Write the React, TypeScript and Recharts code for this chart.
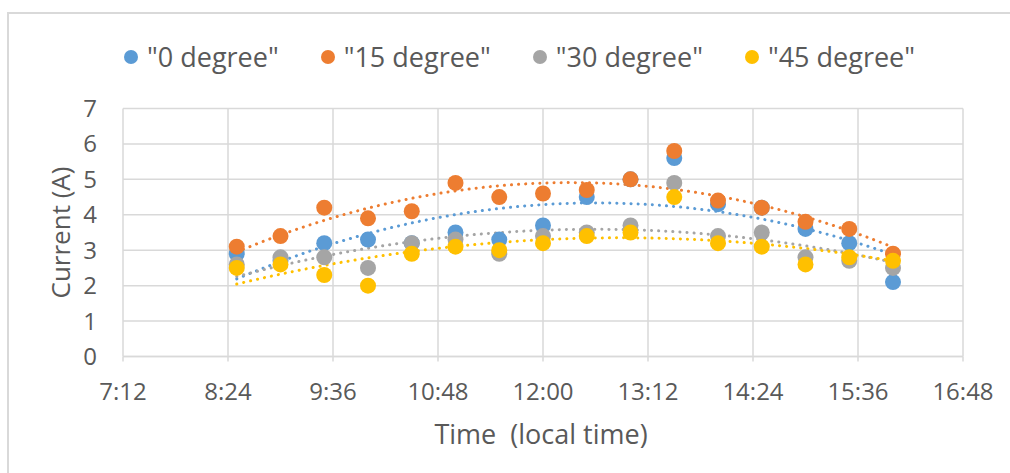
import React from 'react';
import { ComposedChart, Scatter, Line, XAxis, YAxis, CartesianGrid, Legend } from 'recharts';

const times = ['8:30', '9:00', '9:30', '10:00', '10:30', '11:00', '11:30', '12:00', '12:30', '13:00', '13:30', '14:00', '14:30', '15:00', '15:30', '16:00'];
const deg0 = [2.9, 2.7, 3.2, 3.3, 3.2, 3.5, 3.3, 3.7, 4.5, 5.0, 5.6, 4.3, 4.2, 3.6, 3.2, 2.1];
const deg15 = [3.1, 3.4, 4.2, 3.9, 4.1, 4.9, 4.5, 4.6, 4.7, 5.0, 5.8, 4.4, 4.2, 3.8, 3.6, 2.9];
const deg30 = [2.6, 2.8, 2.8, 2.5, 3.2, 3.3, 2.9, 3.4, 3.5, 3.7, 4.9, 3.4, 3.5, 2.8, 2.7, 2.5];
const deg45 = [2.5, 2.6, 2.3, 2.0, 2.9, 3.1, 3.0, 3.2, 3.4, 3.5, 4.5, 3.2, 3.1, 2.6, 2.8, 2.7];
const seriesNames = ['"0 degree"', '"15 degree"', '"30 degree"', '"45 degree"'];
const seriesColors = ['#5B9BD5', '#ED7D31', '#A5A5A5', '#FFC000'];
const xTickLabels = ['7:12', '8:24', '9:36', '10:48', '12:00', '13:12', '14:24', '15:36', '16:48'];
const yTicks = [0, 1, 2, 3, 4, 5, 6, 7];
const xTitle = 'Time  (local time)';
const yTitle = 'Current (A)';

const FONT = '"Open Sans", "Noto Sans", sans-serif';
const TEXT = '#595959';
const GRID = '#d9d9d9';

const toMin = (s: string) => {
  const [h, m] = s.split(':').map(Number);
  return h * 60 + m;
};
const fmt = (v: number) => {
  const h = Math.floor(v / 60);
  const m = Math.round(v - h * 60);
  return `${h}:${m < 10 ? '0' + m : m}`;
};
const xTicks = xTickLabels.map(toMin);
const tMins = times.map(toMin);

// Excel-style 2nd-order polynomial trendline (least squares) derived from the series
function quadFit(xs: number[], ys: number[]) {
  const c = 720;
  const us = xs.map((x) => (x - c) / 60);
  let s0 = 0, s1 = 0, s2 = 0, s3 = 0, s4 = 0, t0 = 0, t1 = 0, t2 = 0;
  us.forEach((u, i) => {
    const y = ys[i];
    s0 += 1; s1 += u; s2 += u * u; s3 += u * u * u; s4 += u * u * u * u;
    t0 += y; t1 += u * y; t2 += u * u * y;
  });
  const A = [[s0, s1, s2, t0], [s1, s2, s3, t1], [s2, s3, s4, t2]];
  for (let i = 0; i < 3; i++) {
    for (let k = i + 1; k < 3; k++) {
      const f = A[k][i] / A[i][i];
      for (let j = i; j < 4; j++) A[k][j] -= f * A[i][j];
    }
  }
  const r = [0, 0, 0];
  for (let i = 2; i >= 0; i--) {
    let s = A[i][3];
    for (let j = i + 1; j < 3; j++) s -= A[i][j] * r[j];
    r[i] = s / A[i][i];
  }
  const lo = Math.min(...xs), hi = Math.max(...xs);
  const out: { t: number; v: number }[] = [];
  const n = 80;
  for (let i = 0; i <= n; i++) {
    const x = lo + ((hi - lo) * i) / n;
    const u = (x - c) / 60;
    out.push({ t: x, v: r[0] + r[1] * u + r[2] * u * u });
  }
  return out;
}

const allSeries = [deg0, deg15, deg30, deg45];
const scatterData = allSeries.map((vals) => vals.map((v, i) => ({ t: tMins[i], v })));
const trendData = allSeries.map((vals) => quadFit(tMins, vals));

const LegendContent = () => (
  <div style={{ display: 'flex', alignItems: 'center', paddingLeft: 124, fontFamily: FONT, fontSize: 27, color: TEXT }}>
    {seriesNames.map((n, i) => (
      <div key={n} style={{ display: 'flex', alignItems: 'center', marginRight: 42 }}>
        <span style={{ width: 14, height: 14, borderRadius: 7, background: seriesColors[i], marginRight: 9, display: 'inline-block' }} />
        <span style={{ whiteSpace: 'pre' }}>{n}</span>
      </div>
    ))}
  </div>
);

export default function App() {
  return (
    <div style={{ position: 'absolute', left: 0, top: 0, width: 1010, height: 473, background: '#fff' }}>
      <div style={{ position: 'absolute', left: 7, top: 12, width: 1010, height: 470, borderLeft: `2px solid ${GRID}`, borderTop: `2px solid ${GRID}` }} />
      <div style={{ position: 'absolute', left: 0, top: 0 }}>
        <ComposedChart width={1010} height={473} margin={{ top: 108.5, right: 47, bottom: 26.5, left: 43 }}>
          <CartesianGrid stroke={GRID} strokeWidth={1.5} verticalValues={xTicks} horizontalValues={yTicks} />
          <XAxis
            type="number"
            dataKey="t"
            domain={[xTicks[0], xTicks[xTicks.length - 1]]}
            ticks={xTicks}
            tickFormatter={fmt}
            height={90}
            axisLine={{ stroke: GRID, strokeWidth: 1.5 }}
            tickLine={{ stroke: GRID, strokeWidth: 1.5 }}
            tickSize={5}
            tickMargin={21}
            tick={{ fontFamily: FONT, fontSize: 24, fill: TEXT }}
            interval={0}
            allowDataOverflow
            label={{
              content: (p: any) => {
                const vb = p.viewBox || {};
                return (
                  <text x={vb.x + vb.width / 2 - 2} y={433} textAnchor="middle" dominantBaseline="central" fontFamily={FONT} fontSize={27} fill={TEXT} style={{ whiteSpace: 'pre' }}>
                    {xTitle}
                  </text>
                );
              },
            }}
          />
          <YAxis
            type="number"
            domain={[0, 7]}
            ticks={yTicks}
            width={80}
            axisLine={false}
            tickLine={false}
            tickSize={0}
            tickMargin={26}
            tick={{ fontFamily: FONT, fontSize: 24, fill: TEXT }}
            interval={0}
            label={{
              content: (p: any) => {
                const vb = p.viewBox || {};
                const cx = 60;
                const cy = vb.y + vb.height / 2;
                return (
                  <text x={cx} y={cy} transform={`rotate(-90 ${cx} ${cy})`} textAnchor="middle" dominantBaseline="central" fontFamily={FONT} fontSize={26} fill={TEXT}>
                    {yTitle}
                  </text>
                );
              },
            }}
          />
          <Legend layout="horizontal" verticalAlign="middle" align="center" wrapperStyle={{ position: 'absolute', top: 38, left: 0, width: 1010 }} content={<LegendContent />} />
          {scatterData.map((d, i) => (
            <Scatter
              key={'s' + i}
              name={seriesNames[i]}
              data={d}
              dataKey="v"
              fill={seriesColors[i]}
              isAnimationActive={false}
              shape={(p: any) => <circle cx={p.cx} cy={p.cy} r={8} fill={seriesColors[i]} />}
            />
          ))}
          {trendData.map((d, i) => (
            <Line
              key={'l' + i}
              data={d}
              dataKey="v"
              type="linear"
              stroke={seriesColors[i]}
              strokeWidth={3}
              strokeDasharray="0.1 7"
              strokeLinecap="round"
              dot={false}
              activeDot={false}
              legendType="none"
              isAnimationActive={false}
            />
          ))}
        </ComposedChart>
      </div>
    </div>
  );
}
